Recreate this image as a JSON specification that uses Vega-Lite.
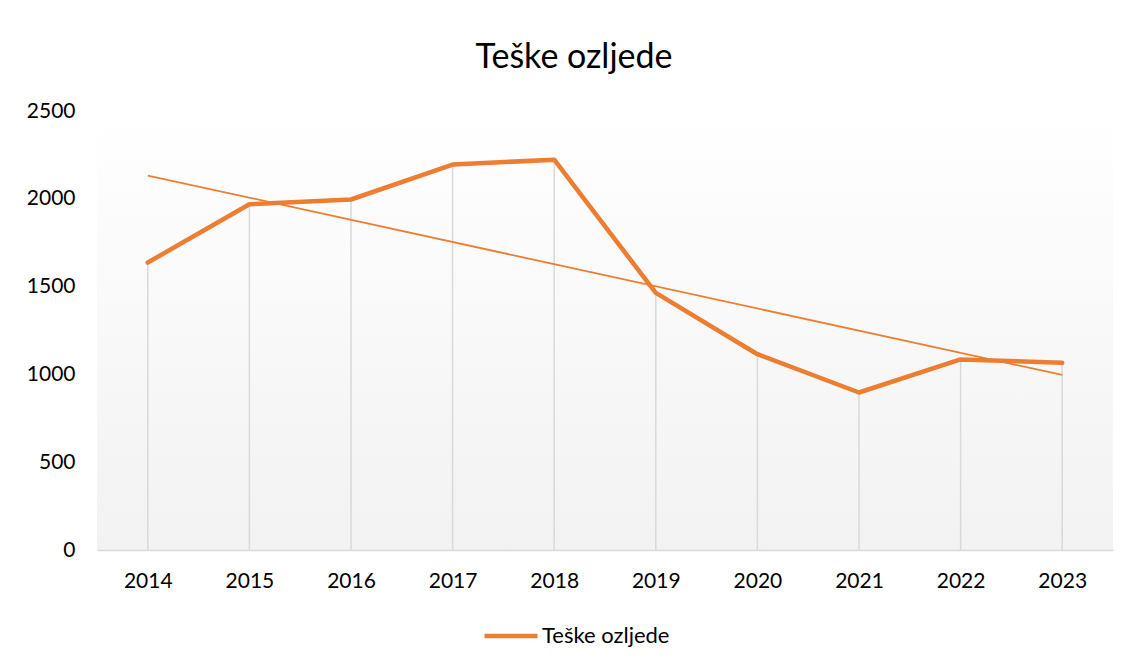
{
  "$schema": "https://vega.github.io/schema/vega-lite/v6.json",
  "width": 1016,
  "height": 439,
  "autosize": {"type": "none"},
  "padding": {"left": 97, "top": 111, "right": 18, "bottom": 116},
  "background": "white",
  "title": {
    "text": "Teške ozljede",
    "font": "Lato",
    "fontSize": 34,
    "fontWeight": "normal",
    "color": "#000000",
    "anchor": "middle",
    "dx": -31,
    "offset": 25
  },
  "data": {
    "values": [
      {"year": 2014, "value": 1637},
      {"year": 2015, "value": 1969},
      {"year": 2016, "value": 1996},
      {"year": 2017, "value": 2195},
      {"year": 2018, "value": 2223},
      {"year": 2019, "value": 1464},
      {"year": 2020, "value": 1115},
      {"year": 2021, "value": 897},
      {"year": 2022, "value": 1085},
      {"year": 2023, "value": 1066}
    ]
  },
  "encoding": {
    "x": {
      "field": "year",
      "type": "quantitative",
      "scale": {"domain": [2013.5, 2023.5], "nice": false, "zero": false},
      "axis": {
        "title": null,
        "values": [2014, 2015, 2016, 2017, 2018, 2019, 2020, 2021, 2022, 2023],
        "format": "d",
        "grid": false,
        "ticks": false,
        "domainColor": "#D9D9D9",
        "domainWidth": 1.5,
        "labelFont": "Lato",
        "labelFontSize": 21,
        "labelColor": "#000000",
        "labelPadding": 20
      }
    }
  },
  "layer": [
    {
      "mark": {"type": "rule", "color": "#D9D9D9", "strokeWidth": 1.5},
      "encoding": {
        "y": {"field": "value", "type": "quantitative"},
        "y2": {"datum": 0}
      }
    },
    {
      "mark": {"type": "line", "strokeWidth": 1.8, "color": "#ED7D31"},
      "transform": [{"regression": "value", "on": "year", "method": "linear"}],
      "encoding": {
        "y": {"field": "value", "type": "quantitative"}
      }
    },
    {
      "mark": {"type": "line", "strokeWidth": 4.5, "strokeJoin": "round", "strokeCap": "round"},
      "encoding": {
        "y": {
          "field": "value",
          "type": "quantitative",
          "scale": {"domain": [0, 2500], "nice": false},
          "axis": {
            "title": null,
            "values": [0, 500, 1000, 1500, 2000, 2500],
            "format": "d",
            "grid": false,
            "ticks": false,
            "domain": false,
            "labelFont": "Lato",
            "labelFontSize": 21,
            "labelColor": "#000000",
            "labelPadding": 22
          }
        },
        "color": {
          "datum": "Teške ozljede",
          "type": "nominal",
          "scale": {"range": ["#ED7D31"]},
          "legend": {
            "title": null,
            "orient": "none",
            "legendX": 385,
            "legendY": 496,
            "padding": 0,
            "symbolType": "stroke",
            "symbolSize": 2809,
            "symbolStrokeWidth": 4.5,
            "labelFont": "Lato",
            "labelFontSize": 22,
            "labelColor": "#000000",
            "labelOffset": 2
          }
        }
      }
    }
  ],
  "config": {
    "view": {
      "stroke": null,
      "fill": {
        "gradient": "linear",
        "x1": 0, "y1": 0, "x2": 0, "y2": 1,
        "stops": [
          {"offset": 0, "color": "#FFFFFF"},
          {"offset": 1, "color": "#F2F2F2"}
        ]
      }
    }
  }
}
